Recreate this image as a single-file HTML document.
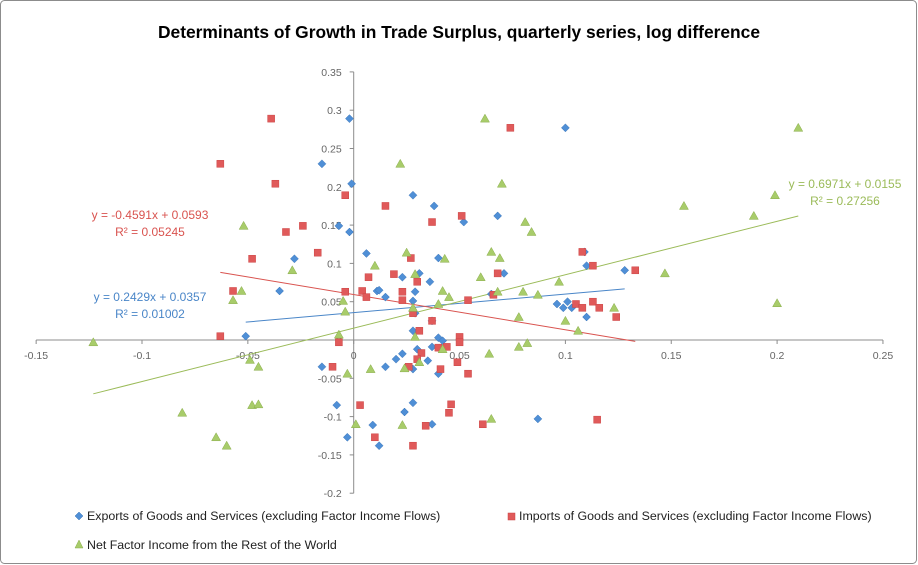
<!DOCTYPE html>
<html><head><meta charset="utf-8"><style>
html,body{margin:0;padding:0;background:#fff}
svg{display:block;font-family:"Liberation Sans",Calibri,sans-serif}
</style></head><body>
<svg id="chart" width="918" height="565" xmlns="http://www.w3.org/2000/svg">
<rect x="0.5" y="0.5" width="916" height="563" rx="4" fill="#fff" stroke="#8c8c8c"/>
<text x="459" y="38" text-anchor="middle" font-size="17.4" font-weight="bold" fill="#000">Determinants of Growth in Trade Surplus, quarterly series, log difference</text>
<g id="axes"></g>
<g id="trend"></g>
<g id="marks"></g>
<g>
<g><path d="M79,512 L83,516 L79,520 L75,516Z" fill="#4f8fd6" stroke="#3a74b8" stroke-width="0.5"/><text x="87" y="520" font-size="12.4" fill="#222">Exports of Goods and Services (excluding Factor Income Flows)</text></g>
<g><rect x="508" y="513" width="7" height="7" fill="#e05a5a" stroke="#c44" stroke-width="0.5"/><text x="519" y="520" font-size="12.4" fill="#222">Imports of Goods and Services (excluding Factor Income Flows)</text></g>
<g><path d="M79,540 L83,548 L75,548Z" fill="#a8cc6a" stroke="#8aad4c" stroke-width="0.5"/><text x="87" y="549" font-size="12.4" fill="#222">Net Factor Income from the Rest of the World</text></g>
</g>
</svg>
<script>
const xTicks=[-0.15,-0.1,-0.05,0,0.05,0.1,0.15,0.2,0.25];
const xTickLabels=["-0.15","-0.1","-0.05","0","0.05","0.1","0.15","0.2","0.25"];
const yTicks=[0.35,0.3,0.25,0.2,0.15,0.1,0.05,0,-0.05,-0.1,-0.15,-0.2];
const yTickLabels=["0.35","0.3","0.25","0.2","0.15","0.1","0.05","0","-0.05","-0.1","-0.15","-0.2"];
const exportsX=[-0.002,-0.015,-0.001,-0.007,-0.002,0.006,0.028,0.038,0.052,0.068,0.040,0.071,0.023,0.031,0.036,0.011,0.012,0.015,0.028,0.029,0.029,0.028,0.037,0.040,0.042,0.030,0.037,0.023,0.020,0.035,0.015,0.028,0.040,-0.015,-0.008,-0.003,0.009,0.012,0.024,0.028,0.037,0.065,0.087,-0.051,-0.035,-0.028,0.100,0.109,0.110,0.128,0.096,0.099,0.101,0.103,0.110];
const exportsY=[0.289,0.230,0.204,0.149,0.141,0.113,0.189,0.175,0.154,0.162,0.107,0.087,0.082,0.087,0.076,0.064,0.065,0.056,0.051,0.063,0.035,0.012,0.025,0.003,-0.001,-0.012,-0.009,-0.018,-0.025,-0.027,-0.035,-0.038,-0.044,-0.035,-0.085,-0.127,-0.111,-0.138,-0.094,-0.082,-0.110,0.060,-0.103,0.005,0.064,0.106,0.277,0.115,0.097,0.091,0.047,0.042,0.050,0.042,0.030];
const importsX=[0.074,-0.004,0.015,0.037,0.051,0.027,0.068,0.007,0.019,0.030,-0.004,0.004,0.006,0.023,0.023,0.028,0.037,0.031,0.054,0.066,-0.007,0.040,0.044,0.050,0.050,0.032,0.030,0.026,0.041,-0.010,0.049,0.054,0.003,0.010,0.028,0.034,0.045,0.046,0.061,-0.039,-0.063,-0.037,-0.032,-0.024,-0.017,-0.048,-0.057,-0.063,0.108,0.113,0.133,0.105,0.108,0.113,0.116,0.124,0.115];
const importsY=[0.277,0.189,0.175,0.154,0.162,0.107,0.087,0.082,0.086,0.076,0.063,0.064,0.056,0.063,0.052,0.035,0.025,0.012,0.052,0.059,-0.003,-0.010,-0.009,0.004,-0.003,-0.017,-0.025,-0.035,-0.038,-0.035,-0.029,-0.044,-0.085,-0.127,-0.138,-0.112,-0.095,-0.084,-0.110,0.289,0.230,0.204,0.141,0.149,0.114,0.106,0.064,0.005,0.115,0.097,0.091,0.047,0.042,0.050,0.042,0.030,-0.104];
const netX=[0.062,0.022,0.070,0.081,0.084,0.025,0.043,0.065,0.069,0.010,0.029,0.060,0.042,0.045,0.068,0.080,0.087,0.040,-0.005,-0.004,0.028,0.078,-0.007,0.029,0.042,0.078,0.082,0.064,0.031,0.024,0.008,-0.003,0.001,0.023,0.065,-0.052,-0.029,-0.053,-0.057,-0.123,-0.049,-0.045,-0.081,-0.048,-0.045,-0.065,-0.060,0.210,0.199,0.156,0.189,0.147,0.097,0.200,0.123,0.100,0.106];
const netY=[0.289,0.230,0.204,0.154,0.141,0.114,0.106,0.115,0.107,0.097,0.086,0.082,0.064,0.056,0.063,0.063,0.059,0.047,0.051,0.037,0.042,0.030,0.007,0.004,-0.012,-0.009,-0.004,-0.018,-0.029,-0.037,-0.038,-0.044,-0.110,-0.111,-0.103,0.149,0.091,0.064,0.052,-0.003,-0.026,-0.035,-0.095,-0.085,-0.084,-0.127,-0.138,0.277,0.189,0.175,0.162,0.087,0.076,0.048,0.042,0.025,0.012];
const trendSlopes=[0.2429,-0.4591,0.6971];
const trendIntercepts=[0.0357,0.0593,0.0155];

const NS="http://www.w3.org/2000/svg";
const X0=353.7, XS=2117, Y0=340, YS=766;
const sx=v=>X0+v*XS, sy=v=>Y0-v*YS;
function mk(tag,attrs,parent,txt){const e=document.createElementNS(NS,tag);for(const k in attrs)e.setAttribute(k,attrs[k]);if(txt!==undefined)e.textContent=txt;parent.appendChild(e);return e;}
const axes=document.getElementById('axes');
let e=mk('line',{x1:sx(-0.15),x2:sx(0.25),y1:sy(0),y2:sy(0),stroke:'#8c8c8c','stroke-width':1},axes);


e=mk('line',{x1:sx(0),x2:sx(0),y1:sy(0.35),y2:sy(-0.2),stroke:'#8c8c8c','stroke-width':1},axes);


xTicks.forEach((t,i)=>{
  mk('line',{x1:sx(t),x2:sx(t),y1:sy(0),y2:sy(0)+4,stroke:'#8c8c8c'},axes);
  const tx=mk('text',{x:sx(t),y:sy(0)+19,'text-anchor':'middle','font-size':10.5,fill:'#666'},axes,xTickLabels[i]);
  
  
});
yTicks.forEach((t,i)=>{
  mk('line',{x1:sx(0)-4,x2:sx(0),y1:sy(t),y2:sy(t),stroke:'#8c8c8c'},axes);
  const tx=mk('text',{x:sx(0)-12,y:sy(t)+4,'text-anchor':'end','font-size':10.5,fill:'#666'},axes,yTickLabels[i]);
  
  
});
const series=[[exportsX,exportsY,'#4f8fd6','#3a74b8','diamond','exports'],[importsX,importsY,'#e05a5a','#c44','square','imports'],[netX,netY,'#a8cc6a','#8aad4c','triangle','net-factor-income']];
const trend=document.getElementById('trend'), marks=document.getElementById('marks');
const tcol=['#4a86c8','#d9534f','#9bbb59'];
series.forEach((s,k)=>{
  const xs=s[0],ys=s[1];
  const mn=Math.min(...xs),mx=Math.max(...xs);
  const l=mk('line',{x1:sx(mn),y1:sy(trendSlopes[k]*mn+trendIntercepts[k]),x2:sx(mx),y2:sy(trendSlopes[k]*mx+trendIntercepts[k]),stroke:tcol[k],'stroke-width':1},trend);
  
  
  xs.forEach((x,i)=>{
    const cx=sx(x),cy=sy(ys[i]);let m;
    if(s[4]==='diamond')m=mk('path',{d:`M${cx},${cy-4}L${cx+4},${cy}L${cx},${cy+4}L${cx-4},${cy}Z`,fill:s[2],stroke:s[3],'stroke-width':0.5},marks);
    else if(s[4]==='square')m=mk('rect',{x:cx-3.5,y:cy-3.5,width:7,height:7,fill:s[2],stroke:s[3],'stroke-width':0.5},marks);
    else m=mk('path',{d:`M${cx},${cy-4.5}L${cx+4.5},${cy+3.5}L${cx-4.5},${cy+3.5}Z`,fill:s[2],stroke:s[3],'stroke-width':0.5},marks);
    
    
  });
});
const labels=[[150,219,'y = -0.4591x + 0.0593','#d9534f'],[150,236,'R² = 0.05245','#d9534f'],[150,301,'y = 0.2429x + 0.0357','#4a86c8'],[150,318,'R² = 0.01002','#4a86c8'],[845,188,'y = 0.6971x + 0.0155','#9bbb59'],[845,205,'R² = 0.27256','#9bbb59']];
labels.forEach(a=>{
  const t=mk('text',{x:a[0],y:a[1],'text-anchor':'middle','font-size':12,fill:a[3]},trend,a[2]);
  
  
});
</script>
</body></html>
